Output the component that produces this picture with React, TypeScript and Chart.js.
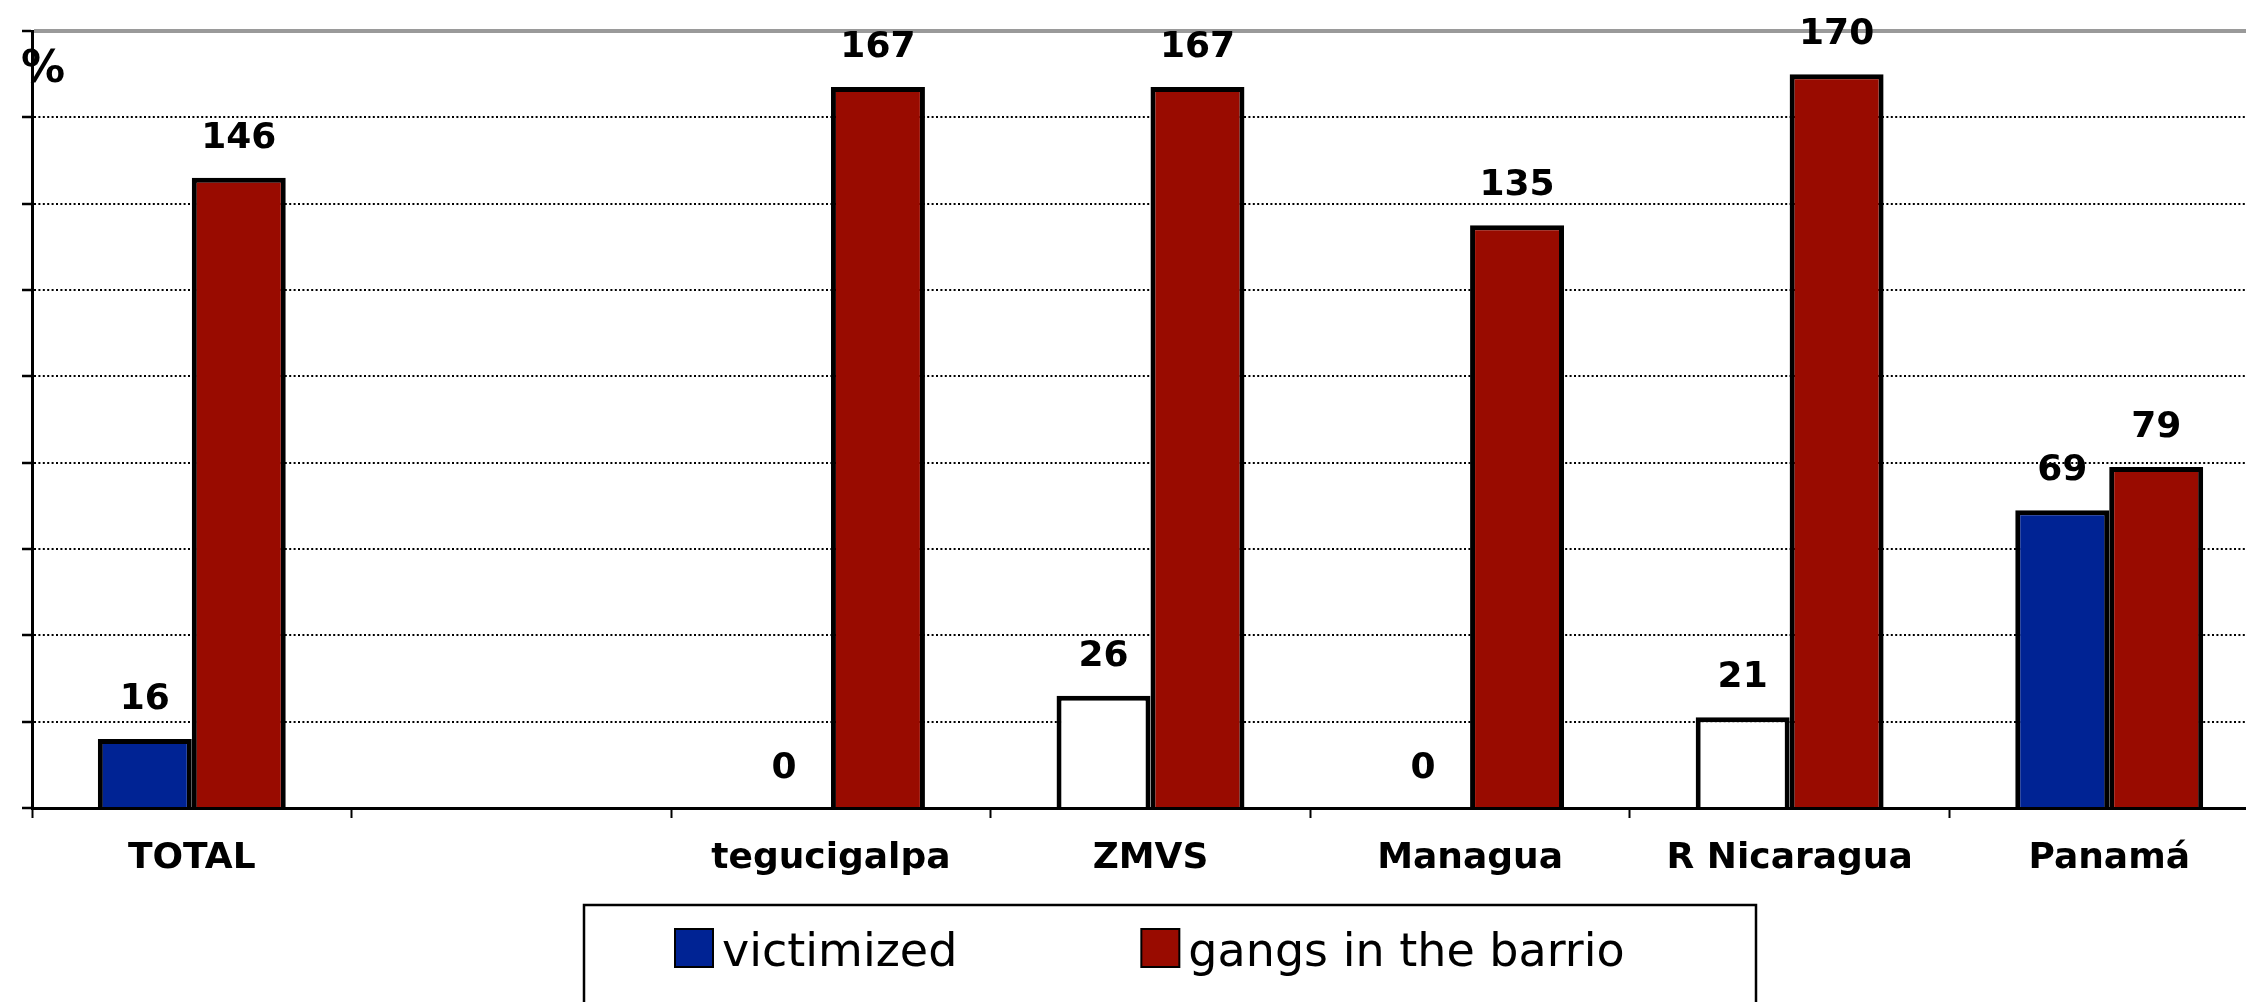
import React, { useEffect, useRef } from 'react';
import { Chart, registerables } from 'chart.js';

Chart.register(...registerables);

// ---- data ----
const categories = ['TOTAL', '', 'tegucigalpa', 'ZMVS', 'Managua', 'R Nicaragua', 'Panamá'];
const victimized = [16, null, 0, 26, 0, 21, 69];
const gangsInBarrio = [146, null, 167, 167, 135, 170, 79];
const seriesNames = ['victimized', 'gangs in the barrio'];
const seriesColors = ['#002394', '#990b00'];
const victimizedFills = ['#002394', '#002394', '#002394', '#ffffff', '#002394', '#ffffff', '#002394'];
const yMin = 0;
const yMax = 180;
const yStep = 20;

const FONT = "'DejaVu Sans', Verdana, sans-serif";
const W = 2280;
const H = 1002;

const valueLabels = {
  id: 'valueLabels',
  afterDatasetsDraw(chart: any) {
    const ctx = chart.ctx;
    ctx.save();
    ctx.font = `bold 36px ${FONT}`;
    ctx.fillStyle = '#000';
    ctx.textAlign = 'center';
    ctx.textBaseline = 'alphabetic';
    chart.data.datasets.forEach((ds: any, i: number) => {
      const meta = chart.getDatasetMeta(i);
      meta.data.forEach((el: any, j: number) => {
        const v = ds.data[j];
        if (v === null || v === undefined) return;
        ctx.fillText(String(v), el.x, el.y - 30);
      });
    });
    ctx.restore();
  },
};

const percentSign = {
  id: 'percentSign',
  afterDraw(chart: any) {
    const { ctx, chartArea } = chart;
    ctx.save();
    ctx.font = `bold 44px ${FONT}`;
    ctx.fillStyle = '#000';
    ctx.textAlign = 'left';
    ctx.textBaseline = 'alphabetic';
    ctx.fillText('%', chartArea.left - 11, chartArea.top + 51);
    ctx.restore();
  },
};

const boxLegend = {
  id: 'boxLegend',
  afterDraw(chart: any) {
    const ctx = chart.ctx;
    ctx.save();
    ctx.strokeStyle = '#000';
    ctx.lineWidth = 2.5;
    ctx.strokeRect(584, 905, 1172, 120);
    ctx.font = `46px ${FONT}`;
    ctx.textBaseline = 'alphabetic';
    ctx.textAlign = 'left';
    let x = 675;
    const box = 38;
    const top = 929;
    chart.data.datasets.forEach((ds: any) => {
      ctx.fillStyle = ds.legendColor;
      ctx.fillRect(x, top, box, box);
      ctx.lineWidth = 2;
      ctx.strokeStyle = '#000';
      ctx.strokeRect(x, top, box, box);
      ctx.fillStyle = '#000';
      const tx = x + box + 9;
      ctx.fillText(ds.label, tx, 966);
      x = tx + ctx.measureText(ds.label).width + 184;
    });
    ctx.restore();
  },
};

export default function App() {
  const ref = useRef<HTMLCanvasElement>(null);

  useEffect(() => {
    if (!ref.current) return;
    const chart = new Chart(ref.current, {
      type: 'bar',
      data: {
        labels: categories,
        datasets: [
          {
            label: seriesNames[0],
            data: victimized,
            backgroundColor: victimizedFills,
            legendColor: seriesColors[0],
            borderColor: '#000',
            borderWidth: 5,
          } as any,
          {
            label: seriesNames[1],
            data: gangsInBarrio,
            backgroundColor: seriesColors[1],
            legendColor: seriesColors[1],
            borderColor: '#000',
            borderWidth: 5,
          } as any,
        ],
      },
      options: {
        animation: false,
        responsive: false,
        devicePixelRatio: 1,
        events: [],
        layout: { padding: { top: 31, left: 0, right: 11, bottom: 0 } },
        datasets: { bar: { categoryPercentage: 0.588, barPercentage: 1 } },
        plugins: {
          legend: { display: false },
          tooltip: { enabled: false },
          title: { display: false },
        },
        scales: {
          x: {
            afterFit: (s: any) => {
              s.height = 194;
            },
            grid: {
              display: true,
              offset: true,
              drawOnChartArea: false,
              drawTicks: true,
              tickLength: 10,
              tickWidth: 2,
              tickColor: '#000',
            },
            border: { display: true, color: '#000', width: 3 },
            ticks: {
              autoSkip: false,
              maxRotation: 0,
              padding: 19,
              color: '#000',
              font: { family: FONT, size: 36, weight: 'bold' },
            },
          },
          y: {
            min: yMin,
            max: yMax,
            afterFit: (s: any) => {
              s.width = 32;
            },
            ticks: { display: false, stepSize: yStep },
            grid: {
              drawTicks: true,
              tickLength: 10,
              tickWidth: 2.5,
              tickColor: '#000',
              color: (c: any) =>
                c.tick && c.tick.value === yMax
                  ? '#9a9a9a'
                  : c.tick && c.tick.value === yMin
                  ? 'rgba(0,0,0,0)'
                  : '#000',
              lineWidth: (c: any) => (c.tick && c.tick.value === yMax ? 4 : 2),
            },
            border: {
              display: true,
              color: '#000',
              width: 3,
              dash: (c: any) => (c.tick && c.tick.value === yMax ? [] : [2, 2.4]),
            },
          },
        },
      } as any,
      plugins: [valueLabels, percentSign, boxLegend],
    });
    return () => chart.destroy();
  }, []);

  return (
    <div
      style={{
        position: 'fixed',
        left: 0,
        top: 0,
        width: '100vw',
        height: '100vh',
        overflow: 'hidden',
        background: '#fff',
      }}
    >
      <canvas ref={ref} width={W} height={H} style={{ width: W, height: H, display: 'block' }} />
    </div>
  );
}
